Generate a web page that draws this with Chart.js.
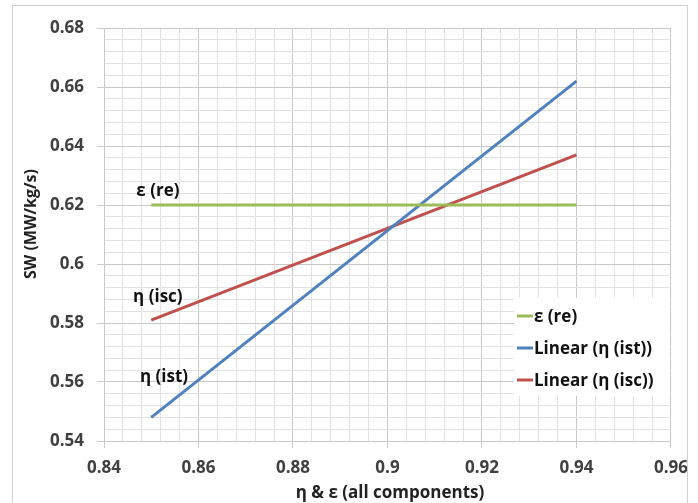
<!DOCTYPE html>
<html>
<head>
<meta charset="utf-8">
<script src="https://cdn.jsdelivr.net/npm/chart.js@4.4.0/dist/chart.umd.min.js"></script>
<style>
  body { margin: 0; background: #fff; }
  canvas { display: block; }
</style>
</head>
<body>
<canvas id="swChart" width="698" height="503"></canvas>
<script>
// values
let xValues = [0.85, 0.94];
let reValues = [0.62, 0.62];
let istValues = [0.548, 0.662];
let iscValues = [0.581, 0.637];
let seriesNames = ["ε (re)", "Linear (η (ist))", "Linear (η (isc))"];
let seriesColors = ["#9BBB59", "#4F81BD", "#C0504D"];
let lineLabels = ["ε (re)", "η (isc)", "η (ist)"];
let xTitle = "η & ε (all components)";
let yTitle = "SW (MW/kg/s)";

const FONT = "'Open Sans', Lato, sans-serif";

function toPoints(ys) {
    return xValues.map((x, i) => ({ x: x, y: ys[i] }));
}

function fmt(v) {
    return parseFloat(v.toFixed(2)).toString();
}

// text labels next to line starts (data coordinates)
let labelAnchors = [
    { text: lineLabels[0], x: 0.8514, y: 0.6247 },
    { text: lineLabels[1], x: 0.8514, y: 0.5889 },
    { text: lineLabels[2], x: 0.8527, y: 0.5616 }
];

let extras = {
    id: "extras",
    beforeDraw(chart) {
        let c = chart.ctx;
        c.save();
        c.fillStyle = "#fff";
        c.fillRect(0, 0, chart.width, chart.height);
        c.restore();
    },
    afterDraw(chart) {
        let c = chart.ctx;
        let xs = chart.scales.x, ys = chart.scales.y;
        c.save();
        // outer border
        c.strokeStyle = "#d0d0d0";
        c.lineWidth = 1;
        c.strokeRect(12.5, 5.5, 675, 510);

        // line labels
        c.fillStyle = "#111";
        c.font = "bold 17px " + FONT;
        c.textAlign = "center";
        c.textBaseline = "middle";
        labelAnchors.forEach(a => {
            c.fillText(a.text, xs.getPixelForValue(a.x), ys.getPixelForValue(a.y));
        });

        // legend box inside plot
        let lx = 514, ly = 298;
        c.fillStyle = "#fff";
        c.fillRect(lx, ly, 156, 98);
        c.textAlign = "left";
        c.font = "bold 17px " + FONT;
        seriesNames.forEach((name, i) => {
            let yy = 316 + i * 32;
            c.strokeStyle = seriesColors[i];
            c.lineWidth = 3;
            c.beginPath();
            c.moveTo(lx + 3, yy);
            c.lineTo(lx + 19, yy);
            c.stroke();
            c.fillStyle = "#111";
            c.fillText(name, lx + 20, yy + 1);
        });

        // axis titles
        c.fillStyle = "#222";
        c.font = "bold 17px " + FONT;
        c.textAlign = "center";
        c.fillText(xTitle, 390, 493);
        c.font = "bold 16px " + FONT;
        c.translate(31, 224);
        c.rotate(-Math.PI / 2);
        c.fillText(yTitle, 0, 0);
        c.restore();
    }
};

function gridColor(ctx) {
    return ctx.index % 5 === 0 ? "#c8c8c8" : "#e2e2e2";
}
function tickColor(ctx) {
    return ctx.index % 5 === 0 ? "#c8c8c8" : "rgba(0,0,0,0)";
}

new Chart(document.getElementById("swChart"), {
    type: "line",
    data: {
        datasets: [
            { label: seriesNames[0], data: toPoints(reValues), borderColor: seriesColors[0] },
            { label: seriesNames[1], data: toPoints(istValues), borderColor: seriesColors[1] },
            { label: seriesNames[2], data: toPoints(iscValues), borderColor: seriesColors[2] }
        ]
    },
    options: {
        responsive: false,
        animation: false,
        layout: { padding: { left: 0, right: 27, top: 28, bottom: 0 } },
        elements: {
            point: { radius: 0 },
            line: { borderWidth: 3, tension: 0 }
        },
        plugins: {
            legend: { display: false },
            tooltip: { enabled: false }
        },
        scales: {
            x: {
                type: "linear",
                min: 0.84,
                max: 0.96,
                afterFit(s) { s.height = 62; },
                ticks: {
                    stepSize: 0.004,
                    autoSkip: false,
                    maxRotation: 0,
                    padding: 10,
                    color: "#404040",
                    font: { family: FONT, size: 17, weight: "bold" },
                    callback: (v, i) => i % 5 === 0 ? fmt(v) : ""
                },
                grid: { color: gridColor, tickColor: tickColor, tickLength: 7 },
                border: { color: "#c8c8c8" }
            },
            y: {
                min: 0.54,
                max: 0.68,
                afterFit(s) { s.width = 104; },
                ticks: {
                    stepSize: 0.004,
                    autoSkip: false,
                    padding: 13,
                    color: "#404040",
                    font: { family: FONT, size: 17, weight: "bold" },
                    callback: (v, i) => i % 5 === 0 ? fmt(v) : ""
                },
                grid: { color: gridColor, tickColor: tickColor, tickLength: 7 },
                border: { color: "#c8c8c8" }
            }
        }
    },
    plugins: [extras]
});
</script>
</body>
</html>
